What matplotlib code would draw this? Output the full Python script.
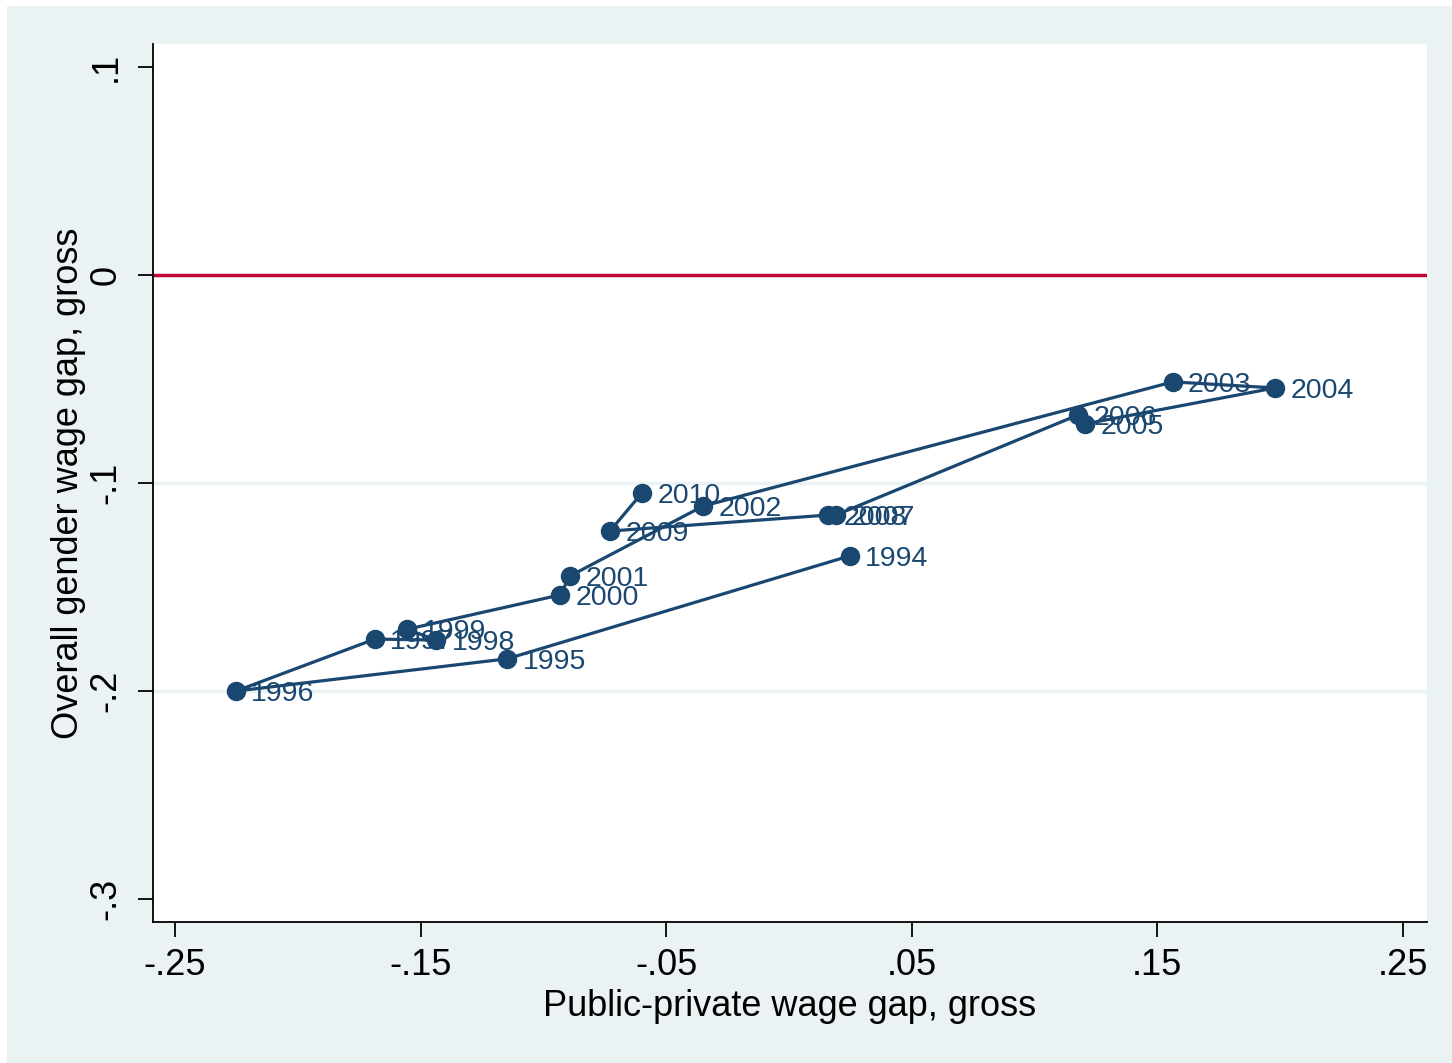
import matplotlib
matplotlib.use('Agg')
import matplotlib.pyplot as plt
from matplotlib.patches import Rectangle

plt.rcParams['font.family'] = ['Liberation Sans', 'DejaVu Sans']

# 年份与两个工资差距
years = [1994, 1995, 1996, 1997, 1998, 1999, 2000, 2001, 2002,
         2003, 2004, 2005, 2006, 2007, 2008, 2009, 2010]
pub_priv_gap = [0.0248, -0.1148, -0.2252, -0.1686, -0.1437, -0.1555, -0.0932, -0.0892, -0.0350,
                0.1563, 0.1979, 0.1205, 0.1177, 0.0191, 0.0159, -0.0729, -0.0599]
gender_gap = [-0.1350, -0.1845, -0.2000, -0.1750, -0.1755, -0.1703, -0.1538, -0.1447, -0.1111,
              -0.0514, -0.0543, -0.0716, -0.0673, -0.1154, -0.1154, -0.1231, -0.1048]

x_ticks = [-0.25, -0.15, -0.05, 0.05, 0.15, 0.25]
x_ticklabels = ['-.25', '-.15', '-.05', '.05', '.15', '.25']
y_ticks = [0.1, 0, -0.1, -0.2, -0.3]
y_ticklabels = ['.1', '0', '-.1', '-.2', '-.3']

navy = '#1A476F'
bg = '#EAF2F3'

fig = plt.figure(figsize=(14.52, 10.63), dpi=100, facecolor='white')
# 外框浅蓝背景
fig.patches.append(Rectangle((7 / 1452, 0), 1, 1 - 6 / 1063, transform=fig.transFigure,
                             facecolor=bg, edgecolor='none', zorder=-10))
ax = fig.add_axes([153 / 1452, 1 - 922 / 1063, (1427 - 153) / 1452, (922 - 44) / 1063])
ax.set_facecolor('white')

# 网格线 (只画中间的)
for yv in [-0.1, -0.2]:
    ax.axhline(yv, color=bg, lw=2.5, zorder=0)
ax.axhline(0, color='#C10534', lw=2.5, zorder=1)

ax.plot(pub_priv_gap, gender_gap, '-o', color=navy, lw=2.3, markersize=13, zorder=3)
for x, y, yr in zip(pub_priv_gap, gender_gap, years):
    ax.annotate(str(yr), (x, y), xytext=(11, -2), textcoords='offset points',
                ha='left', va='center', fontsize=20.5, color=navy, zorder=4)

ax.set_xlim(-0.259, 0.2598)
ax.set_ylim(-0.311, 0.111)
ax.set_xticks(x_ticks)
ax.set_xticklabels(x_ticklabels, fontsize=26)
ax.set_yticks(y_ticks)
ax.set_yticklabels(y_ticklabels, fontsize=26, rotation=90, va='center')
ax.tick_params(length=11, width=1.3, color='black', pad=8)
ax.tick_params(axis='y', pad=10)

for s in ['top', 'right']:
    ax.spines[s].set_visible(False)
for s in ['left', 'bottom']:
    ax.spines[s].set_linewidth(1.3)

ax.set_xlabel('Public-private wage gap, gross', fontsize=26, labelpad=4)
ax.set_ylabel('Overall gender wage gap, gross', fontsize=26, labelpad=2)

fig.savefig('out.png', dpi=100, facecolor=fig.get_facecolor())
